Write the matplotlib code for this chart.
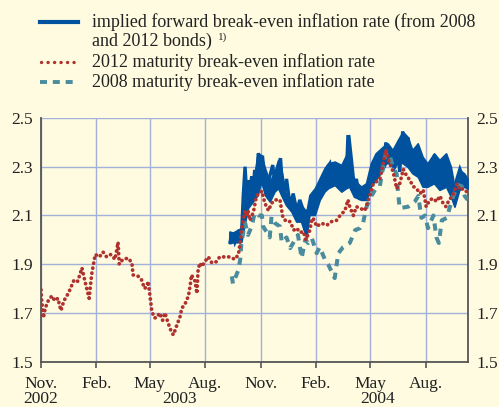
import numpy as np
import matplotlib
matplotlib.use('Agg')
import matplotlib.pyplot as plt
import matplotlib.dates as mdates
from matplotlib.lines import Line2D

plt.rcParams['font.family'] = ['Liberation Serif', 'DejaVu Serif']

start = np.datetime64('2002-11-01')

# 2012 maturity break-even inflation rate (days since 1 Nov 2002, %)
red_days = [0, 1, 4, 7, 12, 18, 23, 28, 33, 38, 43, 48, 55, 61, 68, 73, 77, 80, 84, 90,
            97, 103, 109, 116, 123, 128, 130, 136, 145, 151, 153, 162, 167, 172, 176, 178, 181, 184, 188, 192,
            197, 202, 206, 211, 217, 220, 225, 231, 234, 239, 245, 248, 250, 256, 259, 261, 264, 267, 272, 278,
            284, 291, 297, 304, 314, 322, 328, 331, 333, 336, 339, 342, 344, 347, 353, 358, 367, 372, 378, 383,
            389, 397, 402, 408, 414, 420, 425, 430, 436, 440, 446, 450, 452, 458, 466, 475, 483, 491, 497, 505,
            510, 513, 519, 524, 530, 538, 546, 552, 558, 563, 569, 573, 577, 580, 585, 591, 596, 602, 607, 613,
            618, 624, 630, 635, 640, 646, 652, 657, 663, 668, 673, 678, 684, 691, 696, 702, 707]
red_vals = [1.795, 1.754, 1.68, 1.72, 1.75, 1.77, 1.75, 1.76, 1.71, 1.75, 1.77, 1.795, 1.836, 1.83, 1.885, 1.83, 1.79, 1.76, 1.856, 1.94,
            1.93, 1.95, 1.93, 1.94, 1.92, 1.99, 1.90, 1.92, 1.925, 1.905, 1.856, 1.85, 1.836, 1.80, 1.81, 1.83, 1.77, 1.71, 1.68, 1.68,
            1.70, 1.67, 1.70, 1.66, 1.62, 1.61, 1.645, 1.685, 1.72, 1.735, 1.77, 1.815, 1.856, 1.83, 1.78, 1.877, 1.905, 1.89, 1.91, 1.93,
            1.905, 1.91, 1.93, 1.93, 1.93, 1.92, 1.94, 1.99, 2.04, 2.08, 2.12, 2.095, 2.12, 2.08, 2.115, 2.18, 2.20, 2.15, 2.12, 2.15,
            2.164, 2.164, 2.09, 2.075, 2.075, 2.04, 2.048, 2.03, 2.034, 2.00, 2.034, 2.08, 2.09, 2.055, 2.068, 2.06, 2.075, 2.08, 2.10, 2.12,
            2.164, 2.136, 2.10, 2.136, 2.13, 2.12, 2.18, 2.23, 2.24, 2.25, 2.32, 2.37, 2.33, 2.31, 2.28, 2.21, 2.23, 2.29, 2.265, 2.245,
            2.22, 2.21, 2.19, 2.205, 2.136, 2.164, 2.17, 2.157, 2.18, 2.15, 2.136, 2.164, 2.18, 2.23, 2.205, 2.21, 2.198]

# 2008 maturity break-even inflation rate
teal_days = [317, 319, 328, 331, 333, 336, 339, 344, 350, 355, 361, 367, 369, 378, 380, 383, 389, 397, 400, 408,
             414, 422, 427, 433, 439, 444, 450, 458, 463, 472, 477, 488, 494, 502, 513, 522, 530, 535, 541, 549,
             555, 563, 569, 574, 580, 585, 591, 593, 596, 610, 621, 627, 632, 638, 643, 652, 657, 661, 666, 674,
             685, 693, 699, 704, 709]
teal_vals = [1.85, 1.82, 1.877, 1.92, 1.99, 2.03, 2.07, 2.02, 2.055, 2.11, 2.10, 2.10, 2.055, 2.02, 2.01, 2.095, 2.068, 2.055, 1.99, 2.01,
             1.966, 2.0, 2.02, 1.925, 2.0, 1.987, 2.007, 1.945, 1.97, 1.918, 1.90, 1.843, 1.945, 1.97, 1.987, 2.04, 2.048, 2.068, 2.136, 2.18,
             2.205, 2.22, 2.31, 2.36, 2.34, 2.30, 2.27, 2.20, 2.13, 2.136, 2.157, 2.18, 2.09, 2.10, 2.048, 2.10, 2.01, 1.987, 2.08, 2.09,
             2.18, 2.225, 2.22, 2.18, 2.164]

# implied forward break-even inflation rate (from 2008 and 2012 bonds): spikes
blue_days = [314, 317, 322, 328, 333, 336, 339, 342, 344, 347, 350, 352, 355, 358, 361, 365, 368, 372, 376, 380,
             385, 389, 394, 398, 401, 405, 408, 414, 419, 425, 430, 436, 439, 441, 447, 452, 458, 463, 469, 474,
             480, 485, 491, 497, 502, 507, 510, 513, 519, 524, 530, 535, 541, 546, 552, 558, 563, 569, 573, 577,
             583, 588, 594, 596, 601, 605, 610, 616, 621, 627, 632, 638, 643, 649, 654, 660, 665, 669, 674, 679,
             685, 691, 696, 702, 707]
blue_vals = [1.99, 2.03, 1.99, 2.03, 2.01, 2.18, 2.30, 2.18, 2.245, 2.19, 2.26, 2.19, 2.287, 2.23, 2.355, 2.33, 2.345, 2.23, 2.22, 2.26,
             2.307, 2.22, 2.30, 2.335, 2.22, 2.20, 2.25, 2.136, 2.19, 2.12, 2.164, 2.12, 2.04, 2.11, 2.136, 2.164, 2.198, 2.23, 2.22, 2.29,
             2.313, 2.245, 2.30, 2.23, 2.27, 2.23, 2.43, 2.25, 2.21, 2.25, 2.164, 2.22, 2.164, 2.23, 2.31, 2.26, 2.33, 2.30, 2.40, 2.31,
             2.37, 2.30, 2.33, 2.28, 2.445, 2.355, 2.42, 2.30, 2.37, 2.27, 2.34, 2.23, 2.30, 2.23, 2.35, 2.23, 2.33, 2.22, 2.33, 2.21,
             2.17, 2.25, 2.29, 2.25, 2.23]

# daily range of the implied forward rate (upper / lower envelope)
band_days = [313, 319, 326, 333, 338, 344, 352, 360, 366, 372, 380, 388, 394, 399, 407, 416, 424, 432, 441, 446,
             455, 463, 471, 477, 488, 499, 507, 512, 520, 532, 540, 548, 556, 568, 576, 584, 593, 601, 609, 617,
             626, 634, 642, 653, 662, 673, 681, 687, 695, 703, 709]
band_hi = [2.034, 2.03, 2.04, 2.049, 2.239, 2.234, 2.225, 2.355, 2.348, 2.295, 2.239, 2.280, 2.328, 2.295, 2.184, 2.172, 2.143, 2.143, 2.116, 2.184,
           2.212, 2.253, 2.294, 2.314, 2.321, 2.307, 2.348, 2.430, 2.246, 2.218, 2.232, 2.314, 2.355, 2.382, 2.396, 2.369, 2.410, 2.444, 2.423, 2.369,
           2.396, 2.341, 2.314, 2.355, 2.328, 2.355, 2.300, 2.218, 2.287, 2.273, 2.25]
band_lo = [1.986, 1.99, 1.99, 1.992, 2.061, 2.131, 2.157, 2.184, 2.239, 2.184, 2.157, 2.198, 2.212, 2.184, 2.143, 2.116, 2.075, 2.075, 2.008, 2.102,
           2.102, 2.164, 2.198, 2.212, 2.225, 2.198, 2.212, 2.218, 2.177, 2.164, 2.164, 2.218, 2.246, 2.287, 2.328, 2.300, 2.328, 2.314, 2.300, 2.273,
           2.259, 2.218, 2.218, 2.232, 2.205, 2.218, 2.177, 2.136, 2.205, 2.218, 2.21]

yticks = [1.5, 1.7, 1.9, 2.1, 2.3, 2.5]
years = ['2002', '2003', '2004']
year_pos = ['2002-11-01', '2003-06-20', '2004-05-14']

bg = '#FEFBE0'
c_blue = '#00529F'
c_red = '#B0322E'
c_teal = '#4A8C9E'
c_grid = '#A3B0DA'
c_txt = '#222222'

red_x = start + np.array(red_days)
teal_x = start + np.array(teal_days)
blue_x = start + np.array(blue_days)
band_x = start + np.array(band_days)

fig = plt.figure(figsize=(4.99, 4.07), dpi=100, facecolor=bg)
ax = fig.add_axes([0.0822, 0.1113, 0.8551, 0.5988], facecolor=bg)

ax.fill_between(band_x, band_lo, band_hi, color=c_blue, lw=1.2, edgecolor=c_blue, zorder=3)
ax.plot(blue_x, blue_vals, color=c_blue, lw=2.4, solid_joinstyle='miter', zorder=3)
ax.plot(teal_x, teal_vals, color=c_teal, lw=2.9, linestyle=(0, (1.8, 1.6)), dash_capstyle='butt', zorder=4)
ax.plot(red_x, red_vals, color=c_red, lw=2.7, linestyle=(0, (0.05, 1.3)), dash_capstyle='round', zorder=5)

ax.set_ylim(1.5, 2.5)
ax.set_xlim(start, start + 709)
ax.set_yticks(yticks)
ax.set_yticklabels([f'{v:.1f}' for v in yticks])
ax.xaxis.set_major_locator(mdates.MonthLocator(bymonth=[2, 5, 8, 11]))
lbls = []
for t in ax.get_xticks():
    m = mdates.num2date(t).strftime('%b')
    lbls.append(m if m == 'May' else m + '.')
ax.set_xticklabels(lbls)

ax.grid(True, color=c_grid, lw=1.0, zorder=0)
ax.set_axisbelow(True)
ax.tick_params(axis='y', length=0, labelsize=12.5, labelcolor=c_txt, pad=6,
               right=True, labelright=True)
ax.tick_params(axis='x', direction='out', length=4, width=1.2, color='#555555',
               labelsize=12.5, labelcolor=c_txt, pad=6)
for s in ['left', 'right', 'bottom']:
    ax.spines[s].set_color('#555555')
    ax.spines[s].set_linewidth(1.3)
ax.spines['top'].set_visible(False)

for y, p in zip(years, year_pos):
    ax.annotate(y, xy=(mdates.date2num(np.datetime64(p)), 0), xycoords=('data', 'axes fraction'),
                xytext=(0, -27), textcoords='offset points', ha='center', va='center',
                fontsize=12.5, color=c_txt, annotation_clip=False)

# legend drawn by hand, in pixel positions of the figure
W, H = 499.0, 407.0
def fx(px):
    return px / W
def fy(py):
    return 1 - py / H
fig.add_artist(Line2D([fx(40), fx(78)], [fy(22), fy(22)], color=c_blue, lw=3.0, transform=fig.transFigure))
fig.add_artist(Line2D([fx(41), fx(78)], [fy(62), fy(62)], color=c_red, lw=2.4, linestyle=(0, (0.05, 1.9)),
                      dash_capstyle='round', transform=fig.transFigure))
fig.add_artist(Line2D([fx(40), fx(78)], [fy(82), fy(82)], color=c_teal, lw=2.8, linestyle=(0, (1.8, 1.5)),
                      transform=fig.transFigure))
tk = dict(fontsize=13, color=c_txt, va='center', ha='left')
fig.text(fx(92), fy(22), 'implied forward break-even inflation rate (from 2008', **tk)
fig.text(fx(92), fy(41), 'and 2012 bonds)', **tk)
fig.text(fx(218), fy(37), '1)', fontsize=8, color=c_txt, va='center', ha='left')
fig.text(fx(92), fy(62), '2012 maturity break-even inflation rate', **tk)
fig.text(fx(92), fy(82), '2008 maturity break-even inflation rate', **tk)

fig.savefig('out.png', dpi=100, facecolor=bg)
